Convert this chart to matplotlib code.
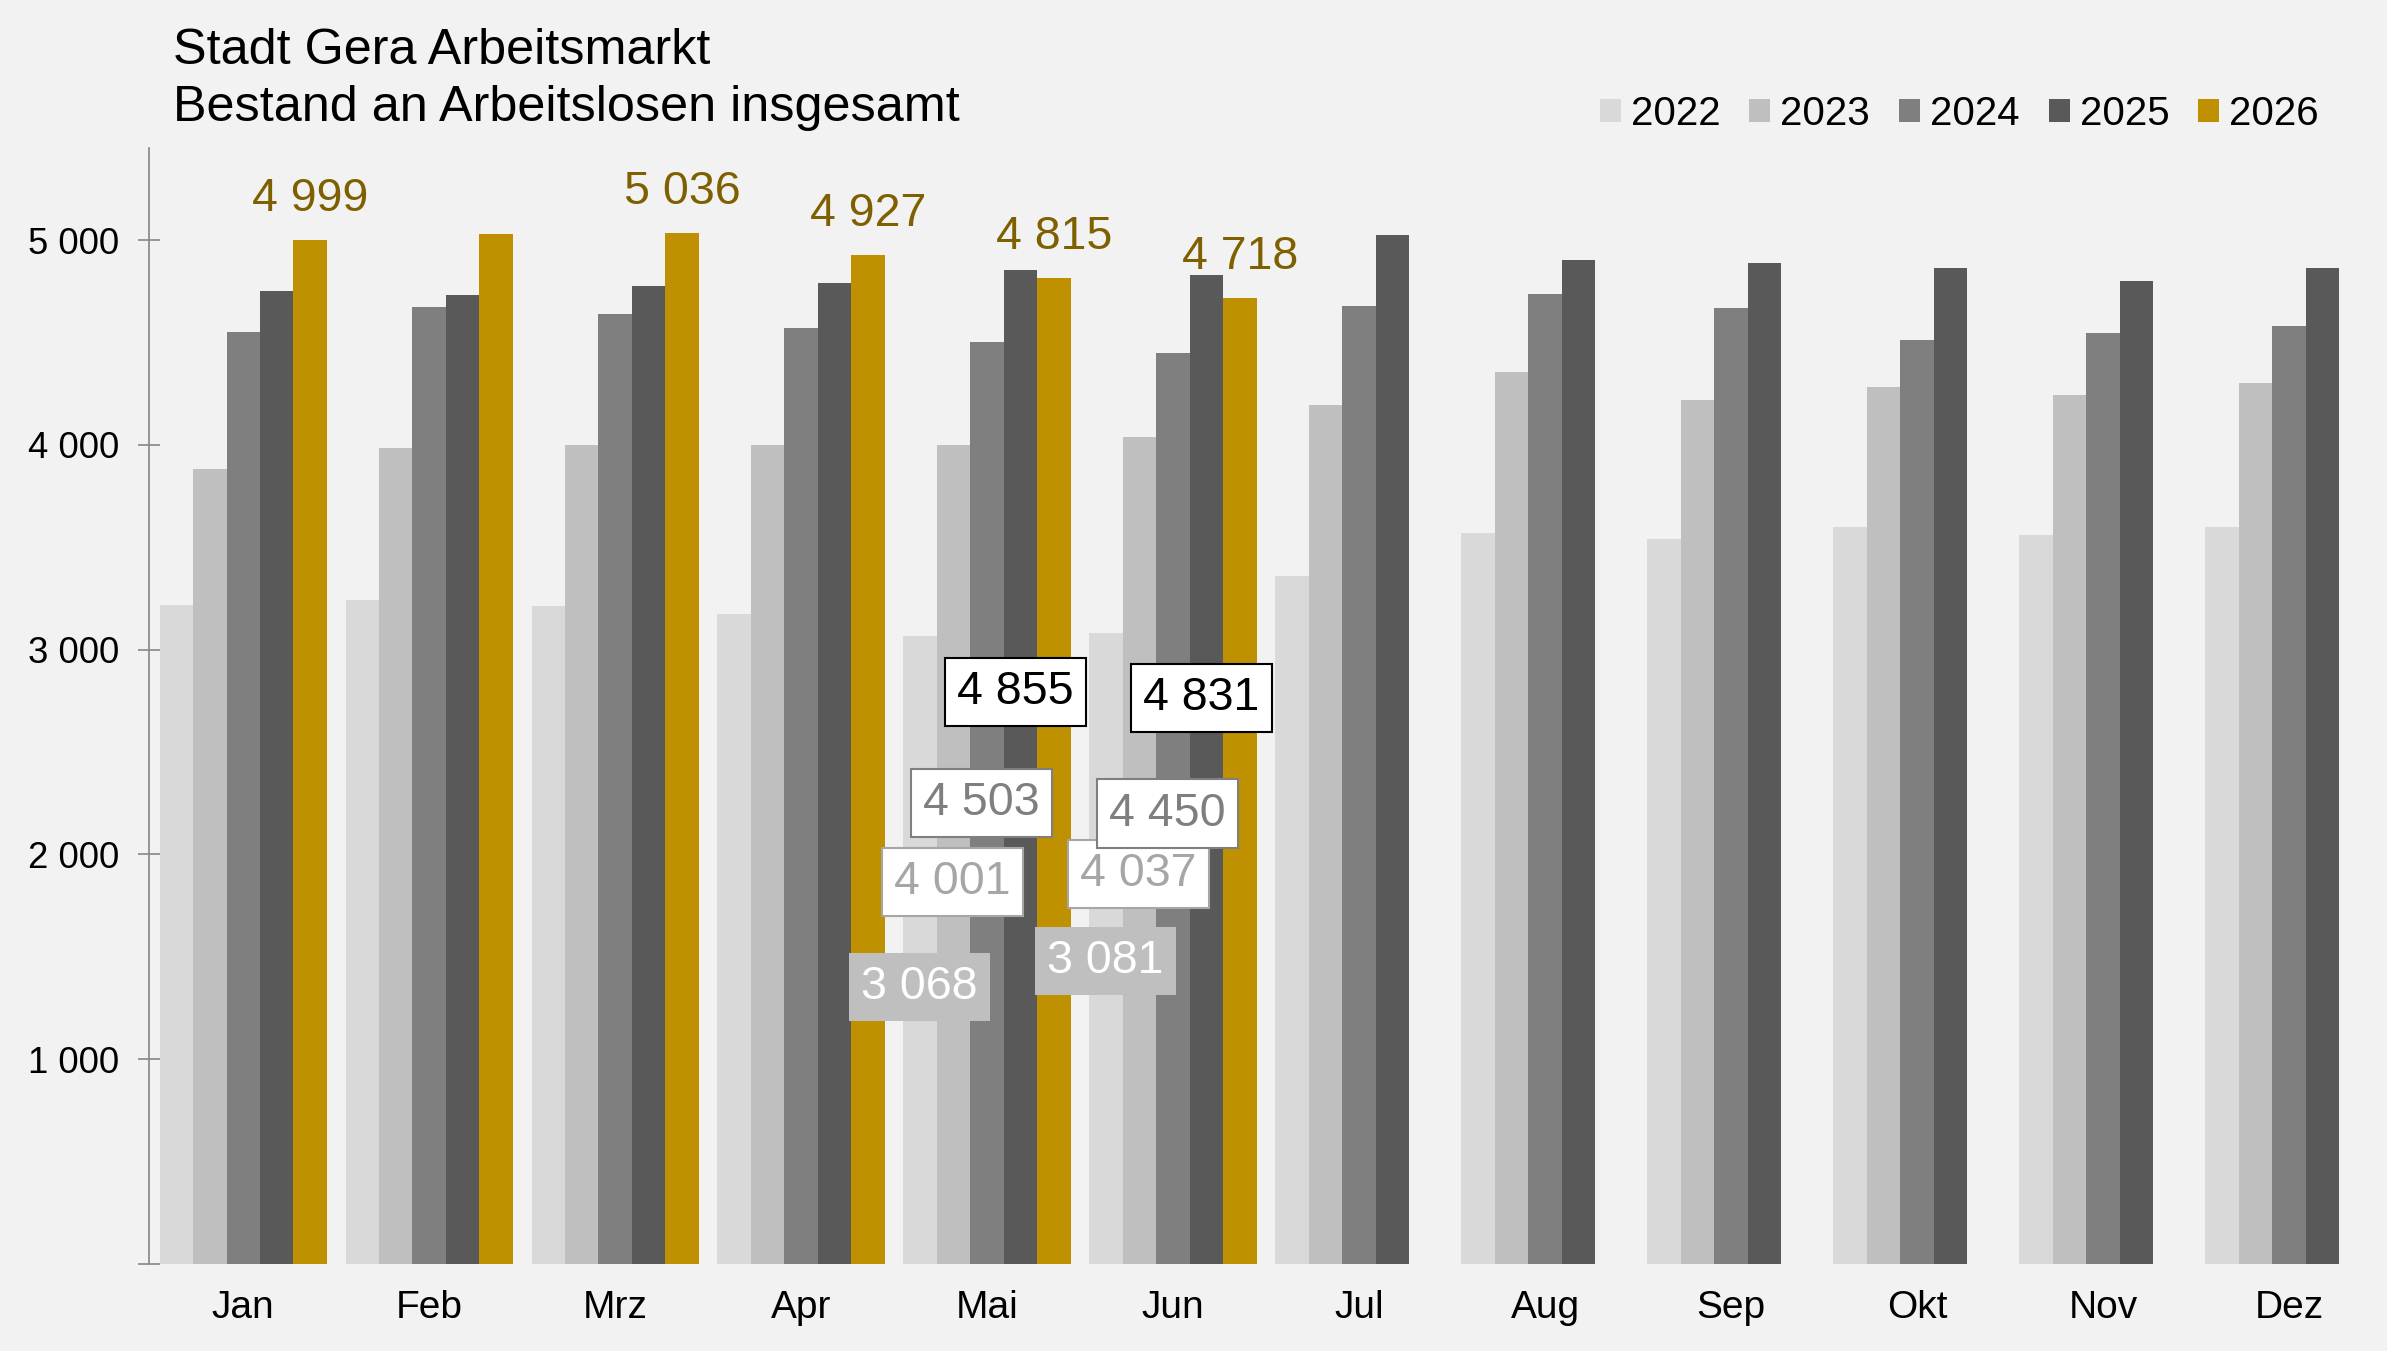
import matplotlib.pyplot as plt
import numpy as np

plt.rcParams['font.family'] = ['Liberation Sans', 'DejaVu Sans']

# Daten: Bestand an Arbeitslosen, Stadt Gera
monate = ['Jan', 'Feb', 'Mrz', 'Apr', 'Mai', 'Jun', 'Jul', 'Aug', 'Sep', 'Okt', 'Nov', 'Dez']
jahre = ['2022', '2023', '2024', '2025', '2026']
v2022 = [3218, 3242, 3213, 3174, 3068, 3081, 3359, 3569, 3540, 3599, 3560, 3599]
v2023 = [3885, 3983, 3998, 4000, 4001, 4037, 4193, 4354, 4222, 4281, 4242, 4305]
v2024 = [4554, 4673, 4642, 4569, 4503, 4450, 4681, 4735, 4671, 4515, 4549, 4579]
v2025 = [4754, 4730, 4774, 4789, 4855, 4831, 5024, 4901, 4891, 4862, 4800, 4862]
v2026 = [4999, 5028, 5036, 4927, 4815, 4718]
werte = [v2022, v2023, v2024, v2025, v2026]

farben = ['#d9d9d9', '#bfbfbf', '#7f7f7f', '#595959', '#bf9000']
gold_text = '#7f6000'
hintergrund = '#f2f2f2'

# Monate mit Beschriftung über den 2026-Balken
gold_label_monate = [0, 2, 3, 4, 5]

# Verschobene Datenbeschriftungen (Mai, Jun) für 2022-2025: y-Position der Box
label_monate = [4, 5]
label_y = {4: [1353, 1865, 2250, 2793], 5: [1479, 1904, 2200, 2764]}
label_dx = [-0.005, -0.006, -0.03, -0.027]
label_stil = [
    dict(color='white', fc='#bfbfbf', ec='none'),
    dict(color='#a6a6a6', fc='white', ec='#a6a6a6'),
    dict(color='#7f7f7f', fc='white', ec='#7f7f7f'),
    dict(color='black', fc='white', ec='black'),
]


def fmt(v):
    return f"{v:,}".replace(",", " ")


fig = plt.figure(figsize=(23.87, 13.51), dpi=100, facecolor=hintergrund)
ax = fig.add_axes([0.0624, 0.0644, 0.9355, 0.8260])
ax.set_facecolor(hintergrund)

breite = 0.18
for i, (jahr, vals, farbe) in enumerate(zip(jahre, werte, farben)):
    x = np.arange(len(vals)) + (i - 2) * breite
    bars = ax.bar(x, vals, width=breite, color=farbe, label=jahr, zorder=2)
    if jahr == '2026':
        for m in gold_label_monate:
            ax.annotate(fmt(vals[m]), (x[m], vals[m]), xytext=(0, 21),
                        textcoords='offset points', ha='center', va='baseline',
                        fontsize=33.5, color=gold_text)
    else:
        for m in label_monate:
            st = label_stil[i]
            ax.text(x[m] + label_dx[i], label_y[m][i], fmt(vals[m]),
                    ha='center', va='center', fontsize=33.5, color=st['color'], zorder=5 + i,
                    bbox=dict(boxstyle='square,pad=0.26', fc=st['fc'], ec=st['ec'], lw=1.5))

ax.set_xlim(-0.507, 11.5)
ax.set_ylim(0, 5450)

ax.set_yticks([0, 1000, 2000, 3000, 4000, 5000])
ax.set_yticklabels([''] + [fmt(v) for v in [1000, 2000, 3000, 4000, 5000]])
ax.tick_params(axis='y', direction='inout', length=16, width=1.2, color='#868686',
               labelsize=26.3, pad=13.6)
ax.set_xticks(range(12))
ax.set_xticklabels(monate)
ax.tick_params(axis='x', length=0, labelsize=28, pad=19)

for s in ['top', 'right', 'bottom']:
    ax.spines[s].set_visible(False)
ax.spines['left'].set_color('#868686')
ax.spines['left'].set_linewidth(1.2)

fig.text(0.0725, 1 - 64 / 1351, 'Stadt Gera Arbeitsmarkt', fontsize=36.3, va='baseline', ha='left')
fig.text(0.0725, 1 - 121 / 1351, 'Bestand an Arbeitslosen insgesamt', fontsize=36.3, va='baseline', ha='left')

fig.legend(loc='center right', bbox_to_anchor=(0.9715, 1 - 114 / 1351), ncol=5,
           frameon=False, fontsize=29, handlelength=0.52, handleheight=0.5,
           handletextpad=0.25, columnspacing=0.72, borderpad=0, borderaxespad=0)

fig.savefig('out.png', dpi=100, facecolor=hintergrund)
